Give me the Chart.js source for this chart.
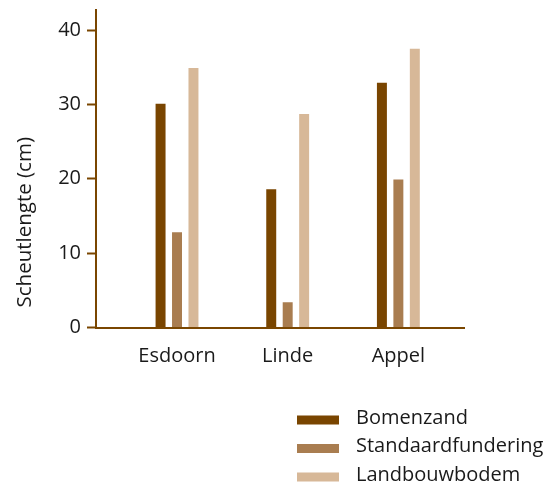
<!DOCTYPE html>
<html>
<head>
<meta charset="utf-8">
<script src="https://cdn.jsdelivr.net/npm/chart.js@4.4.0/dist/chart.umd.min.js"></script>
<style>
  html, body { margin: 0; padding: 0; background: #fff; }
</style>
</head>
<body>
<canvas id="chart" width="554" height="485"></canvas>
<script>
const categories = ['Esdoorn', 'Linde', 'Appel'];
const seriesNames = ['Bomenzand', 'Standaardfundering', 'Landbouwbodem'];
const bomenzand = [30.1, 18.6, 32.9];
const standaardfundering = [12.8, 3.4, 19.9];
const landbouwbodem = [34.9, 28.7, 37.5];
const yTicks = [0, 10, 20, 30, 40];
const yTitle = 'Scheutlengte (cm)';

const colors = ['#794500', '#a97d50', '#d7b898'];
const axisColor = '#7a4600';
const textColor = '#1a1a1a';
const fontFamily = '"Open Sans", Lato, sans-serif';

// legend stacked under the chart, one entry per row,
// and the y title which sits low along the axis
const extras = {
    id: 'extras',
    afterDraw(chart) {
        const ctx = chart.ctx;
        ctx.save();
        ctx.font = '20px ' + fontFamily;
        ctx.textBaseline = 'alphabetic';
        chart.data.datasets.forEach((ds, i) => {
            const y = 420 + i * 28.5;
            ctx.fillStyle = ds.backgroundColor;
            ctx.fillRect(297, y - 4.5, 42, 9);
            ctx.fillStyle = textColor;
            ctx.fillText(ds.label, 356, y + 3.5);
        });

        ctx.font = '20.5px ' + fontFamily;
        ctx.translate(30.5, chart.chartArea.bottom - 20);
        ctx.rotate(-Math.PI / 2);
        ctx.textAlign = 'left';
        ctx.fillText(yTitle, 0, 0);
        ctx.restore();
    }
};

const seriesValues = [bomenzand, standaardfundering, landbouwbodem];

new Chart(document.getElementById('chart'), {
    type: 'bar',
    data: {
        datasets: seriesNames.map((name, i) => ({
            label: name,
            data: seriesValues[i].map((v, j) => ({ x: j + 1, y: v })),
            backgroundColor: colors[i],
            categoryPercentage: 0.446,
            barPercentage: 0.606
        }))
    },
    options: {
        responsive: false,
        animation: false,
        devicePixelRatio: 1,
        layout: { padding: { top: 10, right: 90, bottom: 0, left: 0 } },
        plugins: {
            legend: { display: false },
            tooltip: { enabled: false }
        },
        scales: {
            x: {
                type: 'linear',
                offset: false,
                min: 0.268,
                max: 3.593,
                afterBuildTicks: s => { s.ticks = categories.map((c, i) => ({ value: i + 1 })); },
                afterFit: s => { s.height = 157.5; s.paddingLeft = 0; s.paddingRight = 0; },
                grid: { display: false, offset: false },
                border: { display: true, color: axisColor, width: 2 },
                ticks: {
                    callback: v => categories[v - 1] || '',
                    color: textColor,
                    font: { family: fontFamily, size: 20 },
                    padding: 9,
                    maxRotation: 0
                }
            },
            y: {
                min: 0,
                max: 42.7,
                afterBuildTicks: s => { s.ticks = yTicks.map(v => ({ value: v })); },
                afterFit: s => { s.width = 96; s.paddingTop = 0; s.paddingBottom = 0; },
                grid: {
                    drawOnChartArea: false,
                    drawTicks: true,
                    tickLength: 9,
                    tickWidth: 2,
                    tickColor: axisColor
                },
                border: { display: true, color: axisColor, width: 2 },
                ticks: {
                    color: textColor,
                    font: { family: fontFamily, size: 20 },
                    padding: 6
                }
            }
        }
    },
    plugins: [extras]
});
</script>
</body>
</html>
